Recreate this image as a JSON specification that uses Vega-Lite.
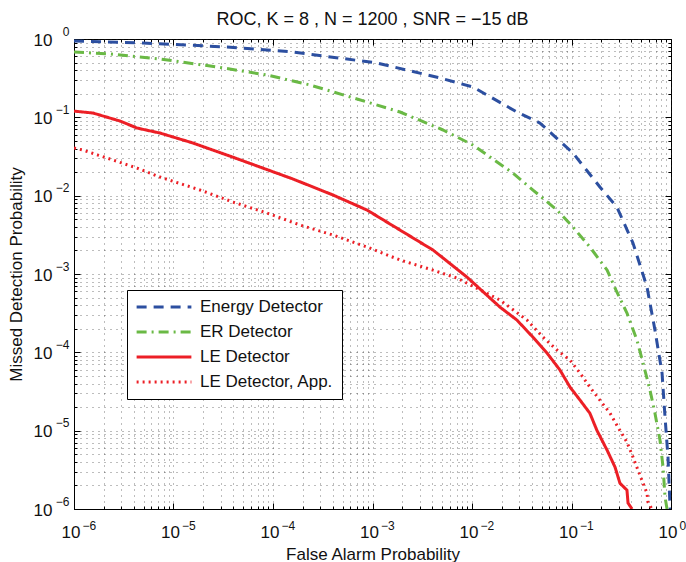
{
  "$schema": "https://vega.github.io/schema/vega-lite/v6.json",
  "autosize": {"type": "none"},
  "padding": {"left": 74, "top": 39, "right": 15, "bottom": 53},
  "width": 597,
  "height": 470,
  "background": "white",
  "config": {
    "font": "Liberation Sans",
    "view": {"stroke": "black", "strokeWidth": 1},
    "axis": {"domainColor": "black", "tickColor": "black", "labelColor": "#111", "titleColor": "#111", "titleFontWeight": "normal", "labelFlush": false, "labelOverlap": false, "labelBound": false}
  },
  "title": {"text": "ROC,  K = 8 , N = 1200 , SNR = −15 dB", "fontSize": 18, "fontWeight": "normal", "color": "#111", "offset": -4, "anchor": "middle"},
  "data": {"values": [
    {"series": "Energy Detector", "x": 1e-6, "y": 0.942},
    {"series": "Energy Detector", "x": 4.93e-6, "y": 0.889},
    {"series": "Energy Detector", "x": 3.45e-5, "y": 0.791},
    {"series": "Energy Detector", "x": 1.59e-4, "y": 0.682},
    {"series": "Energy Detector", "x": 1.11e-3, "y": 0.494},
    {"series": "Energy Detector", "x": 4.76e-3, "y": 0.318},
    {"series": "Energy Detector", "x": 0.0102, "y": 0.244},
    {"series": "Energy Detector", "x": 0.0283, "y": 0.117},
    {"series": "Energy Detector", "x": 0.0482, "y": 0.0845},
    {"series": "Energy Detector", "x": 0.1035, "y": 0.035},
    {"series": "Energy Detector", "x": 0.193, "y": 0.0129},
    {"series": "Energy Detector", "x": 0.286, "y": 0.00714},
    {"series": "Energy Detector", "x": 0.415, "y": 0.00248},
    {"series": "Energy Detector", "x": 0.574, "y": 6.81e-4},
    {"series": "Energy Detector", "x": 0.69, "y": 1.92e-4},
    {"series": "Energy Detector", "x": 0.813, "y": 5.42e-5},
    {"series": "Energy Detector", "x": 0.871, "y": 1.49e-5},
    {"series": "Energy Detector", "x": 0.933, "y": 4.59e-6},
    {"series": "Energy Detector", "x": 0.977, "y": 1.12e-6},
    {"series": "Energy Detector", "x": 0.98, "y": 1e-6},
    {"series": "ER Detector", "x": 1e-6, "y": 0.682},
    {"series": "ER Detector", "x": 2.3e-6, "y": 0.643},
    {"series": "ER Detector", "x": 7.31e-6, "y": 0.556},
    {"series": "ER Detector", "x": 2.74e-5, "y": 0.439},
    {"series": "ER Detector", "x": 8.71e-5, "y": 0.347},
    {"series": "ER Detector", "x": 2.35e-4, "y": 0.259},
    {"series": "ER Detector", "x": 8.81e-4, "y": 0.157},
    {"series": "ER Detector", "x": 1.89e-3, "y": 0.117},
    {"series": "ER Detector", "x": 5.12e-3, "y": 0.0689},
    {"series": "ER Detector", "x": 0.0102, "y": 0.0443},
    {"series": "ER Detector", "x": 0.0258, "y": 0.0194},
    {"series": "ER Detector", "x": 0.041, "y": 0.0118},
    {"series": "ER Detector", "x": 0.0715, "y": 0.00655},
    {"series": "ER Detector", "x": 0.1035, "y": 0.00397},
    {"series": "ER Detector", "x": 0.153, "y": 0.00221},
    {"series": "ER Detector", "x": 0.228, "y": 0.00112},
    {"series": "ER Detector", "x": 0.28, "y": 6.23e-4},
    {"series": "ER Detector", "x": 0.361, "y": 3.17e-4},
    {"series": "ER Detector", "x": 0.455, "y": 1.43e-4},
    {"series": "ER Detector", "x": 0.524, "y": 7.28e-5},
    {"series": "ER Detector", "x": 0.615, "y": 3.29e-5},
    {"series": "ER Detector", "x": 0.69, "y": 1.67e-5},
    {"series": "ER Detector", "x": 0.775, "y": 7.57e-6},
    {"series": "ER Detector", "x": 0.832, "y": 3.42e-6},
    {"series": "ER Detector", "x": 0.871, "y": 1.42e-6},
    {"series": "ER Detector", "x": 0.912, "y": 1e-6},
    {"series": "LE Detector", "x": 1e-6, "y": 0.12},
    {"series": "LE Detector", "x": 1.55e-6, "y": 0.1135},
    {"series": "LE Detector", "x": 2.9e-6, "y": 0.0897},
    {"series": "LE Detector", "x": 4.3e-6, "y": 0.073},
    {"series": "LE Detector", "x": 7.31e-6, "y": 0.063},
    {"series": "LE Detector", "x": 1.57e-5, "y": 0.047},
    {"series": "LE Detector", "x": 3.45e-5, "y": 0.033},
    {"series": "LE Detector", "x": 7.4e-5, "y": 0.0232},
    {"series": "LE Detector", "x": 1.59e-4, "y": 0.0163},
    {"series": "LE Detector", "x": 4.01e-4, "y": 0.0102},
    {"series": "LE Detector", "x": 8.81e-4, "y": 0.00655},
    {"series": "LE Detector", "x": 1.89e-3, "y": 0.00364},
    {"series": "LE Detector", "x": 4.06e-3, "y": 0.00202},
    {"series": "LE Detector", "x": 8.91e-3, "y": 9.12e-4},
    {"series": "LE Detector", "x": 0.0191, "y": 3.78e-4},
    {"series": "LE Detector", "x": 0.0283, "y": 2.58e-4},
    {"series": "LE Detector", "x": 0.041, "y": 1.56e-4},
    {"series": "LE Detector", "x": 0.0568, "y": 9.77e-5},
    {"series": "LE Detector", "x": 0.0766, "y": 5.93e-5},
    {"series": "LE Detector", "x": 0.0966, "y": 3.6e-5},
    {"series": "LE Detector", "x": 0.122, "y": 2.45e-5},
    {"series": "LE Detector", "x": 0.153, "y": 1.67e-5},
    {"series": "LE Detector", "x": 0.18, "y": 1.01e-5},
    {"series": "LE Detector", "x": 0.228, "y": 5.63e-6},
    {"series": "LE Detector", "x": 0.274, "y": 3.42e-6},
    {"series": "LE Detector", "x": 0.307, "y": 2.13e-6},
    {"series": "LE Detector", "x": 0.361, "y": 1.74e-6},
    {"series": "LE Detector", "x": 0.37, "y": 1.19e-6},
    {"series": "LE Detector", "x": 0.406, "y": 1e-6},
    {"series": "LE Detector, App.", "x": 1e-6, "y": 0.0405},
    {"series": "LE Detector, App.", "x": 1.23e-6, "y": 0.0382},
    {"series": "LE Detector, App.", "x": 1.74e-6, "y": 0.033},
    {"series": "LE Detector, App.", "x": 2.47e-6, "y": 0.0285},
    {"series": "LE Detector, App.", "x": 4.3e-6, "y": 0.0225},
    {"series": "LE Detector, App.", "x": 7.31e-6, "y": 0.0173},
    {"series": "LE Detector, App.", "x": 1.85e-5, "y": 0.0118},
    {"series": "LE Detector, App.", "x": 3.96e-5, "y": 0.00828},
    {"series": "LE Detector, App.", "x": 8.71e-5, "y": 0.006},
    {"series": "LE Detector, App.", "x": 1.87e-4, "y": 0.00422},
    {"series": "LE Detector, App.", "x": 4.01e-4, "y": 0.00314},
    {"series": "LE Detector, App.", "x": 8.81e-4, "y": 0.00221},
    {"series": "LE Detector, App.", "x": 1.89e-3, "y": 0.00151},
    {"series": "LE Detector, App.", "x": 4.06e-3, "y": 0.00112},
    {"series": "LE Detector, App.", "x": 7.06e-3, "y": 8.87e-4},
    {"series": "LE Detector, App.", "x": 0.0191, "y": 4.65e-4},
    {"series": "LE Detector, App.", "x": 0.0357, "y": 2.58e-4},
    {"series": "LE Detector, App.", "x": 0.0518, "y": 1.56e-4},
    {"series": "LE Detector, App.", "x": 0.0715, "y": 1.07e-4},
    {"series": "LE Detector, App.", "x": 0.0966, "y": 7.94e-5},
    {"series": "LE Detector, App.", "x": 0.122, "y": 5.42e-5},
    {"series": "LE Detector, App.", "x": 0.153, "y": 3.6e-5},
    {"series": "LE Detector, App.", "x": 0.193, "y": 2.45e-5},
    {"series": "LE Detector, App.", "x": 0.244, "y": 1.67e-5},
    {"series": "LE Detector, App.", "x": 0.293, "y": 1.11e-5},
    {"series": "LE Detector, App.", "x": 0.361, "y": 7.13e-6},
    {"series": "LE Detector, App.", "x": 0.415, "y": 4.59e-6},
    {"series": "LE Detector, App.", "x": 0.466, "y": 3.13e-6},
    {"series": "LE Detector, App.", "x": 0.524, "y": 2.13e-6},
    {"series": "LE Detector, App.", "x": 0.574, "y": 1.59e-6},
    {"series": "LE Detector, App.", "x": 0.587, "y": 1.22e-6},
    {"series": "LE Detector, App.", "x": 0.644, "y": 1e-6}
  ]},
  "layer": [
    {
      "mark": {"type": "line", "clip": true, "opacity": 0},
      "encoding": {
        "x": {"field": "x", "type": "quantitative", "scale": {"type": "log", "domain": [1e-6, 1], "nice": false},
          "axis": {"orient": "top", "title": null, "labels": false, "grid": false, "domain": false,
            "values": [1e-6,2e-6,3e-6,4e-6,5e-6,6e-6,7e-6,8e-6,9e-6,1e-5,2e-5,3e-5,4e-5,5e-5,6e-5,7e-5,8e-5,9e-5,1e-4,2e-4,3e-4,4e-4,5e-4,6e-4,7e-4,8e-4,9e-4,1e-3,2e-3,3e-3,4e-3,5e-3,6e-3,7e-3,8e-3,9e-3,0.01,0.02,0.03,0.04,0.05,0.06,0.07,0.08,0.09,0.1,0.2,0.3,0.4,0.5,0.6,0.7,0.8,0.9,1],
            "tickSize": {"condition": {"test": "abs(log(datum.value)/LN10 - round(log(datum.value)/LN10)) < 0.01", "value": -6}, "value": -3}}},
        "y": {"field": "y", "type": "quantitative", "scale": {"type": "log", "domain": [1e-6, 1], "nice": false},
          "axis": {"orient": "right", "title": null, "labels": false, "grid": false, "domain": false,
            "values": [1e-6,2e-6,3e-6,4e-6,5e-6,6e-6,7e-6,8e-6,9e-6,1e-5,2e-5,3e-5,4e-5,5e-5,6e-5,7e-5,8e-5,9e-5,1e-4,2e-4,3e-4,4e-4,5e-4,6e-4,7e-4,8e-4,9e-4,1e-3,2e-3,3e-3,4e-3,5e-3,6e-3,7e-3,8e-3,9e-3,0.01,0.02,0.03,0.04,0.05,0.06,0.07,0.08,0.09,0.1,0.2,0.3,0.4,0.5,0.6,0.7,0.8,0.9,1],
            "tickSize": {"condition": {"test": "abs(log(datum.value)/LN10 - round(log(datum.value)/LN10)) < 0.01", "value": -6}, "value": -3}}},
        "detail": {"field": "series"}
      }
    },
    {
      "mark": {"type": "line", "clip": true, "opacity": 0},
      "encoding": {
        "x": {"field": "x", "type": "quantitative", "scale": {"type": "log", "domain": [1e-6, 1], "nice": false},
          "axis": {"orient": "bottom", "title": null, "labels": false, "grid": false, "domain": false,
            "values": [1e-6,2e-6,3e-6,4e-6,5e-6,6e-6,7e-6,8e-6,9e-6,1e-5,2e-5,3e-5,4e-5,5e-5,6e-5,7e-5,8e-5,9e-5,1e-4,2e-4,3e-4,4e-4,5e-4,6e-4,7e-4,8e-4,9e-4,1e-3,2e-3,3e-3,4e-3,5e-3,6e-3,7e-3,8e-3,9e-3,0.01,0.02,0.03,0.04,0.05,0.06,0.07,0.08,0.09,0.1,0.2,0.3,0.4,0.5,0.6,0.7,0.8,0.9,1],
            "tickSize": {"condition": {"test": "abs(log(datum.value)/LN10 - round(log(datum.value)/LN10)) < 0.01", "value": -6}, "value": -3}}},
        "y": {"field": "y", "type": "quantitative", "scale": {"type": "log", "domain": [1e-6, 1], "nice": false},
          "axis": {"orient": "left", "title": null, "labels": false, "grid": false, "domain": false,
            "values": [1e-6,2e-6,3e-6,4e-6,5e-6,6e-6,7e-6,8e-6,9e-6,1e-5,2e-5,3e-5,4e-5,5e-5,6e-5,7e-5,8e-5,9e-5,1e-4,2e-4,3e-4,4e-4,5e-4,6e-4,7e-4,8e-4,9e-4,1e-3,2e-3,3e-3,4e-3,5e-3,6e-3,7e-3,8e-3,9e-3,0.01,0.02,0.03,0.04,0.05,0.06,0.07,0.08,0.09,0.1,0.2,0.3,0.4,0.5,0.6,0.7,0.8,0.9,1],
            "tickSize": {"condition": {"test": "abs(log(datum.value)/LN10 - round(log(datum.value)/LN10)) < 0.01", "value": -6}, "value": -3}}},
        "detail": {"field": "series"}
      }
    },
    {
      "mark": {"type": "line", "clip": true, "opacity": 0},
      "encoding": {
        "x": {"field": "x", "type": "quantitative", "scale": {"type": "log", "domain": [1e-6, 1], "nice": false},
          "axis": {"orient": "bottom", "title": null, "ticks": false, "grid": false, "domain": false,
            "values": [1e-6, 1e-5, 1e-4, 1e-3, 0.01, 0.1, 1],
            "labelExpr": "round(log(datum.value)/LN10) < 0 ? '−' + abs(round(log(datum.value)/LN10)) : '0'",
            "labelFontSize": 12, "labelAlign": "left", "labelBaseline": "top", "labelOffset": 8, "labelPadding": 11}},
        "y": {"field": "y", "type": "quantitative", "scale": {"type": "log", "domain": [1e-6, 1], "nice": false},
          "axis": {"orient": "left", "title": null, "ticks": false, "grid": false, "domain": false,
            "values": [1e-6, 1e-5, 1e-4, 1e-3, 0.01, 0.1, 1],
            "labelExpr": "round(log(datum.value)/LN10) < 0 ? '−' + abs(round(log(datum.value)/LN10)) : '0'",
            "labelFontSize": 12, "labelAlign": "right", "labelBaseline": "middle", "labelOffset": -8, "labelPadding": 5}},
        "detail": {"field": "series"}
      }
    },
    {
      "mark": {"type": "line", "clip": true, "strokeCap": "butt", "strokeJoin": "round"},
      "encoding": {
        "x": {"field": "x", "type": "quantitative", "scale": {"type": "log", "domain": [1e-6, 1], "nice": false},
          "axis": {"orient": "bottom", "title": "False Alarm Probability", "titleFontSize": 17, "titlePadding": 6,
            "labelFontSize": 17, "labelPadding": 15, "labelAlign": "right", "labelBaseline": "top", "labelOffset": 6, "ticks": false,
            "values": [1e-6,2e-6,3e-6,4e-6,5e-6,6e-6,7e-6,8e-6,9e-6,1e-5,2e-5,3e-5,4e-5,5e-5,6e-5,7e-5,8e-5,9e-5,1e-4,2e-4,3e-4,4e-4,5e-4,6e-4,7e-4,8e-4,9e-4,1e-3,2e-3,3e-3,4e-3,5e-3,6e-3,7e-3,8e-3,9e-3,0.01,0.02,0.03,0.04,0.05,0.06,0.07,0.08,0.09,0.1,0.2,0.3,0.4,0.5,0.6,0.7,0.8,0.9,1],
            "labelExpr": "abs(log(datum.value)/LN10 - round(log(datum.value)/LN10)) < 0.01 ? '10' : ''",
            "grid": true, "gridColor": "#222", "gridDash": [1, 5], "gridWidth": 1, "gridOpacity": 0.6}},
        "y": {"field": "y", "type": "quantitative", "scale": {"type": "log", "domain": [1e-6, 1], "nice": false},
          "axis": {"orient": "left", "title": "Missed Detection Probability", "titleFontSize": 17, "titlePadding": 8,
            "labelFontSize": 17, "labelPadding": 22, "labelAlign": "right", "labelBaseline": "middle", "labelOffset": 1, "ticks": false,
            "values": [1e-6,2e-6,3e-6,4e-6,5e-6,6e-6,7e-6,8e-6,9e-6,1e-5,2e-5,3e-5,4e-5,5e-5,6e-5,7e-5,8e-5,9e-5,1e-4,2e-4,3e-4,4e-4,5e-4,6e-4,7e-4,8e-4,9e-4,1e-3,2e-3,3e-3,4e-3,5e-3,6e-3,7e-3,8e-3,9e-3,0.01,0.02,0.03,0.04,0.05,0.06,0.07,0.08,0.09,0.1,0.2,0.3,0.4,0.5,0.6,0.7,0.8,0.9,1],
            "labelExpr": "abs(log(datum.value)/LN10 - round(log(datum.value)/LN10)) < 0.01 ? '10' : ''",
            "grid": true, "gridColor": "#222", "gridDash": [1, 5], "gridWidth": 1, "gridOpacity": 0.6}},
        "color": {"field": "series", "type": "nominal",
          "scale": {"domain": ["Energy Detector", "ER Detector", "LE Detector", "LE Detector, App."], "range": ["#2c4fa0", "#6ab945", "#ec1f26", "#ec1f26"]},
          "legend": {"title": null, "orient": "none", "legendX": 53, "legendY": 251, "symbolType": "stroke", "symbolSize": 3000,
            "clipHeight": 18, "labelFontSize": 17, "labelColor": "#111", "labelOffset": 7, "padding": 8, "rowPadding": 7,
            "strokeColor": "black", "fillColor": "white", "cornerRadius": 0, "labelLimit": 300}},
        "strokeDash": {"field": "series", "type": "nominal",
          "scale": {"domain": ["Energy Detector", "ER Detector", "LE Detector", "LE Detector, App."], "range": [[10, 7], [10, 5, 2, 5], [1, 0], [2, 4]]},
          "legend": {"title": null}},
        "strokeWidth": {"field": "series", "type": "nominal",
          "scale": {"domain": ["Energy Detector", "ER Detector", "LE Detector", "LE Detector, App."], "range": [3, 3, 3, 1.5]},
          "legend": {"title": null}}
      }
    }
  ],
  "resolve": {"axis": {"x": "independent", "y": "independent"}}
}
